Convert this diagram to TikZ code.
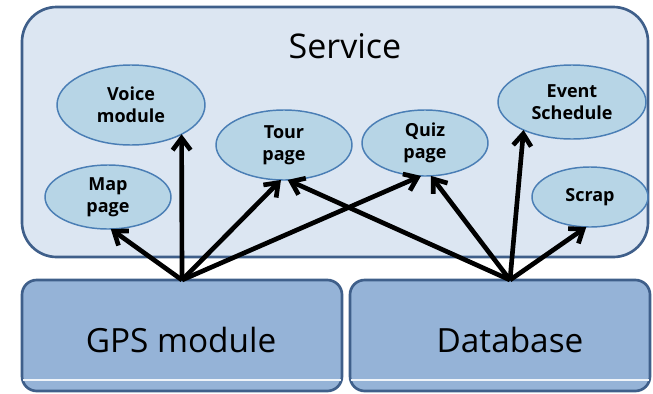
\documentclass[tikz,border=0pt]{standalone}
\usepackage{fontspec}
\setmainfont{Open Sans}
\usetikzlibrary{arrows.meta,shapes.geometric}
\definecolor{svcfill}{HTML}{DCE6F2}
\definecolor{boxfill}{HTML}{95B3D7}
\definecolor{boxline}{HTML}{3F5F8A}
\definecolor{bubblefill}{HTML}{B7D5E6}
\definecolor{bubbleline}{HTML}{4A7EB5}

\begin{document}
\begin{tikzpicture}[x=0.75pt,y=-0.75pt,
  bubble/.style={draw=bubbleline,fill=bubblefill,ellipse,line width=1.1pt,inner sep=0pt,outer sep=0pt,
    align=center,font=\bfseries\fontsize{13.5}{16.5}\selectfont},
  layer/.style={draw=boxline,fill=boxfill,line width=2pt,rounded corners=11pt,outer sep=0pt},
  link/.style={-{Straight Barb[length=9pt,width=13.5pt]},line width=3.5pt,line join=miter}]
\useasboundingbox (0,0) rectangle (653,393);
% service layer
\node[draw=boxline,fill=svcfill,line width=2pt,rounded corners=26pt,minimum width=469.5pt,minimum height=187.5pt] (service) at (335,132) {};
\node[font=\fontsize{25.5}{30}\selectfont,anchor=base] (servicelabel) at (345,58) {Service};
% bottom layers
\node[layer,minimum width=240pt,minimum height=83.25pt] (gps) at (182,335.5) {};
\node[layer,minimum width=225pt,minimum height=83.25pt] (db) at (500,335.5) {};
\draw[white!85!boxfill,line width=0.8pt] (23,380) -- (341,380);
\draw[white!85!boxfill,line width=0.8pt] (351,380) -- (649,380);
\node[font=\fontsize{25}{30}\selectfont,anchor=base] (gpslabel) at (181,352) {GPS module};
\node[font=\fontsize{25}{30}\selectfont,anchor=base] (dblabel) at (510,352) {Database};
\coordinate (gpstop) at (182,280);
\coordinate (dbtop) at (510,280);
% pages
\node[bubble,minimum width=111pt,minimum height=60pt] (voice) at (131,105) {Voice\\module};
\node[bubble,minimum width=94.5pt,minimum height=48pt] (map) at (108,197) {Map\\page};
\node[bubble,minimum width=102pt,minimum height=52.5pt] (tour) at (284,145) {Tour\\page};
\node[bubble,minimum width=94.5pt,minimum height=49.5pt] (quiz) at (425,143) {Quiz\\page};
\node[bubble,minimum width=111pt,minimum height=55.5pt] (event) at (572,102) {Event\\Schedule};
\node[bubble,minimum width=87pt,minimum height=45pt] (scrap) at (590,197) {Scrap};
% arrows
\draw[link] (gpstop) -- (map.275);
\draw[link] (gpstop) -- (voice.330);
\draw[link] (gpstop) -- (tour.265);
\draw[link] (gpstop) -- (quiz.263);
\draw[link] (dbtop) -- (tour.276);
\draw[link] (dbtop) -- (quiz.280);
\draw[link] (dbtop) -- (event.210);
\draw[link] (dbtop) -- (scrap.263);
\end{tikzpicture}
\end{document}
